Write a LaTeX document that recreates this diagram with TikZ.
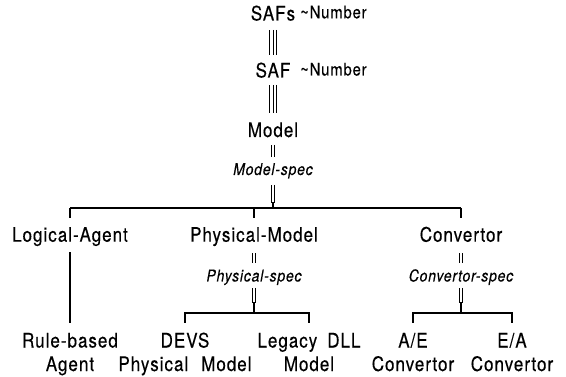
\documentclass[tikz,border=0pt]{standalone}
\usepackage{fontspec}
\setmainfont{TeX Gyre Heros}[FakeStretch=0.85, LetterSpace=5, FakeBold=0.3]
\usetikzlibrary{calc}
\tikzset{
  lbl/.style={inner sep=0pt, anchor=base, font=\fontsize{20}{23.5}\selectfont},
  twoline/.style={lbl, align=center},
  note/.style={inner sep=0pt, anchor=base west, font=\fontsize{17.4}{20}\selectfont},
  spec/.style={inner sep=0pt, anchor=base, font=\fontsize{16.4}{20}\selectfont\itshape},
  wire/.style={line width=1.2pt},
  dbl/.style={line width=1pt, double distance=1.8pt},
  trpl/.style={line width=1pt, double distance=5.4pt, postaction={draw, line width=1pt}},
}
\begin{document}
\begin{tikzpicture}[x=1pt, y=-1pt]
\useasboundingbox (0,0) rectangle (566,377);

% top chain
\node[lbl] (safs) at (273,20.5) {SAFs};
\node[note] (num1) at (300,18.3) {\textasciitilde Number};
\node[lbl] (saf) at (273,77.5) {SAF};
\node[note] (num2) at (300,75.5) {\textasciitilde Number};
\node[lbl] (model) at (273,137) {Model};
\node[spec] (mspec) at (273,175) {Model-spec};

% second level
\node[lbl] (la) at (70,241.7) {Logical-Agent};
\node[lbl] (pm) at (254,241.7) {Physical-Model};
\node[lbl] (cv) at (461,241.7) {Convertor};
\node[spec] (pspec) at (254,281.5) {Physical-spec};
\node[spec] (cspec) at (461,281.5) {Convertor-spec};

% leaves (base anchor sits on the last line)
\node[twoline] (rb) at (70,371) {Rule-based\\Agent};
\node[twoline] (devs) at (185,371) {DEVS\\Physical\hspace{13pt}Model};
\node[twoline] (leg) at (309,371) {Legacy\hspace{10pt}DLL\\Model};
\node[twoline] (ae) at (413,371) {A/E\\Convertor};
\node[twoline] (ea) at (512,371) {E/A\\Convertor};

% bus rows
\coordinate (bus) at (0,208);
\coordinate (pbus) at (0,313);
\coordinate (cbus) at (0,313);

% SAFs -> SAF -> Model
\draw[trpl] ($(safs.base)+(0,9.5)$) -- ($(saf.base)+(0,-22.5)$);
\draw[trpl] ($(saf.base)+(0,7.5)$) -- ($(model.base)+(0,-24)$);
% Model -> Model-spec -> bus
\draw[dbl] ($(model.base)+(0,8)$) -- ($(mspec.base)+(0,-18)$);
\draw[dbl] ($(mspec.base)+(0,10)$) -- ($(mspec |- bus)+(0,-5)$);
\draw[wire] ($(mspec |- bus)+(0,-5.5)$) -- (mspec |- bus);
\draw[wire] (la |- bus) -- (cv |- bus);
\draw[wire] (la |- bus) -- ($(la.base)+(0,-23.7)$);
\draw[wire] (pm |- bus) -- ($(pm.base)+(0,-23.7)$);
\draw[wire] (cv |- bus) -- ($(cv.base)+(0,-23.7)$);

% Logical-Agent -> Rule-based Agent
\draw[wire] ($(la.base)+(0,10.5)$) -- ($(rb.base)+(0,-48)$);

% Physical-Model branch
\draw[dbl] ($(pm.base)+(0,11.5)$) -- ($(pspec.base)+(0,-18.5)$);
\draw[dbl] ($(pspec.base)+(0,6.5)$) -- ($(pspec |- pbus)+(0,-10)$);
\draw[wire] ($(pspec |- pbus)+(0,-10.5)$) -- (pspec |- pbus);
\draw[wire] ($(devs.base)+(0,-48)$) |- (pbus -| leg) -- ($(leg.base)+(0,-48)$);

% Convertor branch
\draw[dbl] ($(cv.base)+(0,11.5)$) -- ($(cspec.base)+(0,-18.5)$);
\draw[dbl] ($(cspec.base)+(0,6.5)$) -- ($(cspec |- cbus)+(0,-10)$);
\draw[wire] ($(cspec |- cbus)+(0,-10.5)$) -- (cspec |- cbus);
\draw[wire] ($(ae.base)+(0,-48)$) |- (cbus -| ea) -- ($(ea.base)+(0,-48)$);
\end{tikzpicture}
\end{document}
